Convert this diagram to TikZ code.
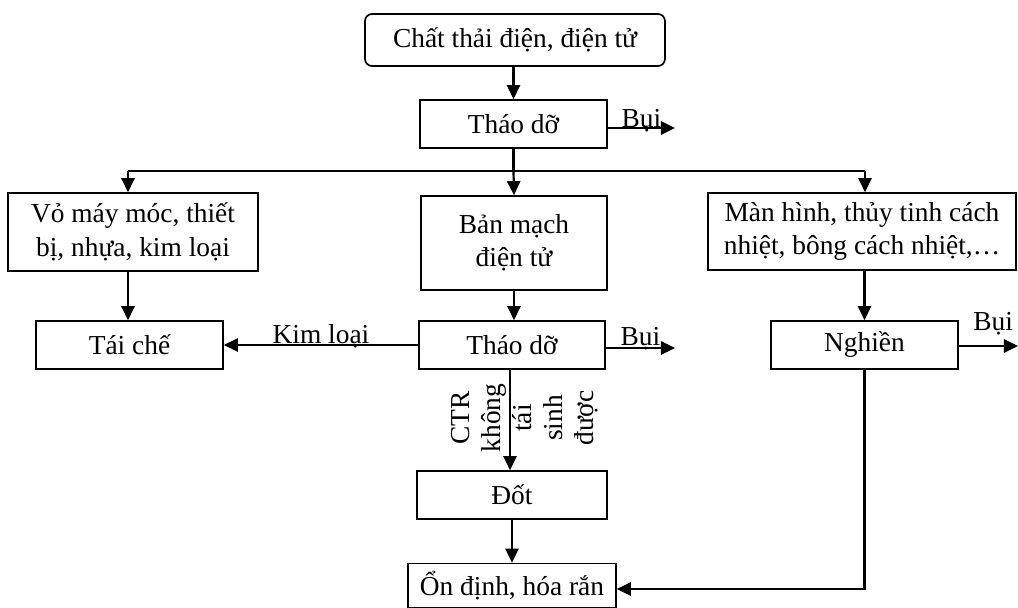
\documentclass[tikz,border=0pt]{standalone}
\usepackage{fontspec}
\setmainfont{Liberation Serif}
\usetikzlibrary{arrows.meta}

\tikzset{
  box/.style={draw, line width=0.95pt, inner sep=0pt, align=center, minimum height=0.96cm},
  flow/.style={line width=1.25pt, -{Triangle[length=8pt,width=7.5pt]}},
  link/.style={line width=1.25pt}
}

\begin{document}
\begin{tikzpicture}[x=0.02cm, y=-0.02cm, font=\fontsize{15.6}{19}\selectfont]
\useasboundingbox (0,0) rectangle (1018,608);

\node[box, rounded corners=0.14cm, minimum width=6cm, minimum height=1.04cm] (waste) at (515,40) {Chất thải điện, điện tử};
\node[box, minimum width=3.74cm] (dismantle) at (513.5,124) {Tháo dỡ};
\node[box, minimum width=5cm, minimum height=1.56cm] (casing) at (133,232) {Vỏ máy móc, thiết\\bị, nhựa, kim loại};
\node[box, minimum width=3.72cm, minimum height=1.88cm] (board) at (514,243) {Bản mạch\\điện tử};
\node[box, minimum width=6.16cm, minimum height=1.54cm] (screen) at (862,231.5) {Màn hình, thủy tinh cách\\nhiệt, bông cách nhiệt,…};
\node[box, minimum width=3.74cm] (recycle) at (129.5,345) {Tái chế};
\node[box, minimum width=3.72cm] (strip) at (512,345) {Tháo dỡ};
\node[box, minimum width=3.74cm] (crush) at (864.5,345) {Nghiền};
\node[box, minimum width=3.8cm] (burn) at (512,495) {Đốt};
\node[box, minimum width=4.16cm, minimum height=0.88cm] (stabilize) at (512,585.5) {Ổn định, hóa rắn};
\node[rotate=90, align=center, font=\fontsize{15.6}{17.6}\selectfont] (residue) at (525,418) {CTR\\không\\tái\\sinh\\được};

\coordinate (split) at (513.5,171);
\coordinate (splitL) at (128,171);
\coordinate (splitR) at (865,171);
\coordinate (dust1) at (675,128);
\coordinate (dust2) at (675,348);
\coordinate (dust3) at (1018,346);

\draw[flow] (waste.south -| dismantle) -- (dismantle.north);
\draw[flow] (dismantle.east |- dust1) -- node[anchor=base, yshift=0.5pt]{Bụi} (dust1);
\draw[link] (dismantle.south) -- (split);
\draw[link] (splitL) -- (splitR);
\draw[flow] (splitL) -- (splitL |- casing.north);
\draw[flow] (split) -- (board.north);
\draw[flow] (splitR) -- (splitR |- screen.north);
\draw[flow] (splitL |- casing.south) -- (splitL |- recycle.north);
\draw[flow] (board.south) -- (board.south |- strip.north);
\draw[flow] (strip.west) -- node[anchor=base, yshift=1pt]{Kim loại} (recycle.east);
\draw[flow] (strip.east |- dust2) -- node[anchor=base, yshift=1.7pt]{Bụi} (dust2);
\draw[flow] (strip.south -| 510,0) -- (burn.north -| 510,0);
\draw[flow] (burn.south) -- (stabilize.north);
\draw[flow] (screen.south -| crush) -- (crush.north);
\draw[flow] (crush.east |- dust3) -- node[pos=.58, anchor=base, yshift=9pt]{Bụi} (dust3);
\draw[flow] (crush.south) |- ([yshift=-2pt]stabilize.east);
\end{tikzpicture}
\end{document}
